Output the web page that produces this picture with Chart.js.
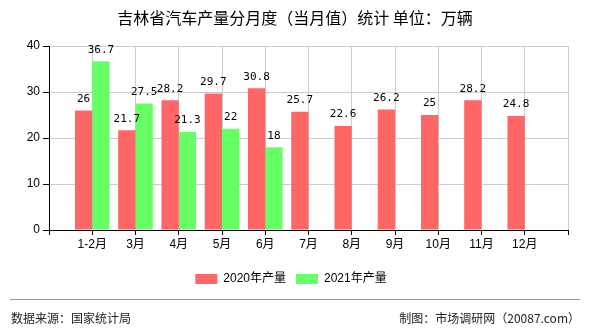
<!DOCTYPE html>
<html>
<head>
<meta charset="utf-8">
<script src="https://cdn.jsdelivr.net/npm/chart.js@4/dist/chart.umd.min.js"></script>
<style>
  html, body { margin: 0; padding: 0; background: #fff; }
  #wrap { width: 590px; height: 330px; }
</style>
</head>
<body>
<div id="wrap"><canvas id="c" width="590" height="330"></canvas></div>
<script>
// Monthly output, 10k vehicles
const months = ['1-2月', '3月', '4月', '5月', '6月', '7月', '8月', '9月', '10月', '11月', '12月'];
const output2020 = [26, 21.7, 28.2, 29.7, 30.8, 25.7, 22.6, 26.2, 25, 28.2, 24.8];
const output2021 = [36.7, 27.5, 21.3, 22, 18];
const yTicks = [0, 10, 20, 30, 40];
const seriesNames = ['2020年产量', '2021年产量'];
const titleText = '吉林省汽车产量分月度（当月值）统计 单位：万辆';
const sourceText = '数据来源：国家统计局';
const creditText = '制图：市场调研网（20087.com）';

// Blank slot at each end so every month sits on its own gridline
const labels = [''].concat(months, ['']);
const pad = arr => [null].concat(arr, Array(labels.length - 1 - arr.length).fill(null));

const CJK = '"Liberation Sans", "Noto Sans CJK SC", sans-serif';

// Value labels above each bar
const valueLabels = {
  id: 'valueLabels',
  afterDatasetsDraw(chart) {
    const ctx = chart.ctx;
    ctx.save();
    ctx.font = '11px "DejaVu Sans Mono", monospace';
    ctx.fillStyle = '#000';
    ctx.textAlign = 'center';
    ctx.textBaseline = 'bottom';
    chart.data.datasets.forEach((ds, i) => {
      const meta = chart.getDatasetMeta(i);
      meta.data.forEach((el, j) => {
        const v = ds.data[j];
        if (v === null || v === undefined) return;
        ctx.fillText(String(v), el.x, el.y - 6);
      });
    });
    ctx.restore();
  }
};

// Nudge the legend row to sit centred on the page
const legendShift = {
  id: 'legendShift',
  afterLayout(chart) {
    if (chart.legend) {
      chart.legend.left += 7;
      chart.legend.right += 7;
    }
  }
};

// Heading, footer rule and footer notes
const frame = {
  id: 'frame',
  afterDraw(chart) {
    const ctx = chart.ctx;
    ctx.save();
    ctx.fillStyle = '#000';
    ctx.textBaseline = 'middle';
    ctx.textAlign = 'center';
    ctx.font = '16px "Noto Sans CJK SC", sans-serif';
    ctx.fillText(titleText, 295, 18);

    ctx.strokeStyle = '#999';
    ctx.lineWidth = 1;
    ctx.beginPath();
    ctx.moveTo(10, 299.5);
    ctx.lineTo(580, 299.5);
    ctx.stroke();

    ctx.font = '12px "Noto Sans CJK SC", sans-serif';
    ctx.fillStyle = '#222';
    ctx.textAlign = 'left';
    ctx.fillText(sourceText, 11, 318);
    ctx.textAlign = 'right';
    ctx.fillText(creditText, 580, 318);
    ctx.restore();
  }
};

new Chart(document.getElementById('c'), {
  type: 'bar',
  data: {
    labels: labels,
    datasets: [
      { label: seriesNames[0], data: pad(output2020), backgroundColor: '#FF6666', borderWidth: 0 },
      { label: seriesNames[1], data: pad(output2021), backgroundColor: '#66FF66', borderWidth: 0 }
    ]
  },
  options: {
    responsive: false,
    animation: false,
    devicePixelRatio: 1,
    categoryPercentage: 0.8,
    barPercentage: 1.0,
    layout: { padding: { top: 46, left: 0, right: 22, bottom: 35 } },
    plugins: {
      title: { display: false },
      tooltip: { enabled: false },
      legend: {
        position: 'bottom',
        labels: {
          boxWidth: 22,
          boxHeight: 10,
          padding: 10,
          color: '#000',
          font: { size: 12, family: CJK }
        }
      }
    },
    scales: {
      x: {
        type: 'category',
        offset: false,
        grid: { color: '#cccccc', tickColor: '#000', tickLength: 5, offset: false },
        border: { color: '#000' },
        ticks: { color: '#000', font: { size: 12, family: CJK }, padding: 2, autoSkip: false, maxRotation: 0 },
        afterFit(scale) { scale.height = 33; }
      },
      y: {
        min: 0,
        max: 40,
        grid: { color: '#cccccc', tickColor: '#000', tickLength: 6 },
        border: { color: '#000' },
        ticks: { color: '#000', font: { size: 12, family: CJK }, padding: 3 },
        afterBuildTicks(scale) { scale.ticks = yTicks.map(v => ({ value: v })); },
        afterFit(scale) { scale.width = 49; }
      }
    }
  },
  plugins: [valueLabels, legendShift, frame]
});
</script>
</body>
</html>
